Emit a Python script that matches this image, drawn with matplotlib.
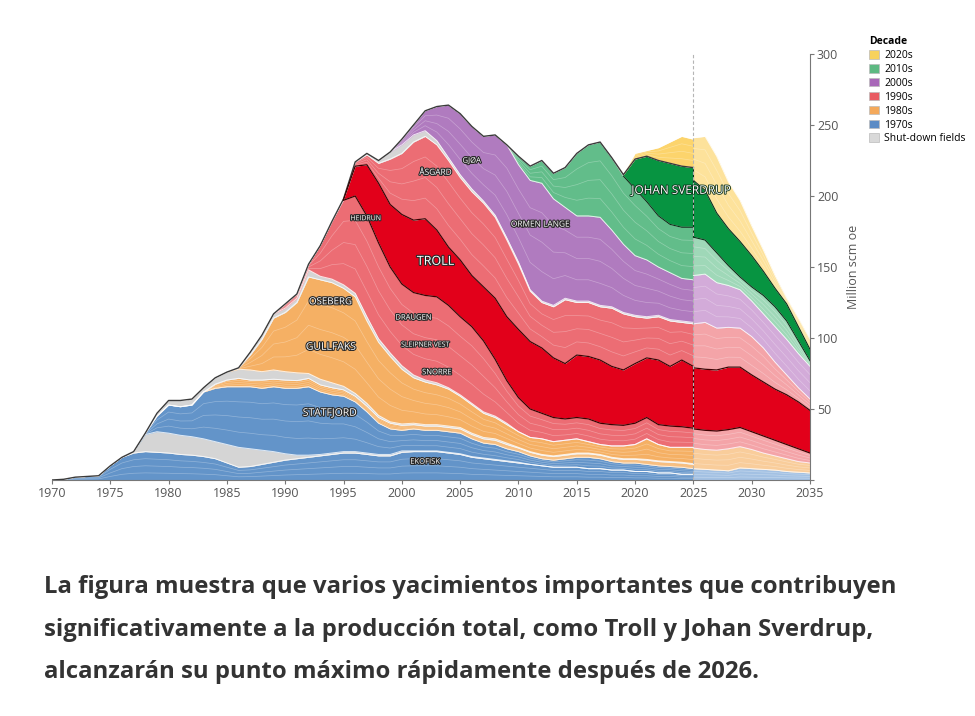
import numpy as np
import matplotlib
matplotlib.use("Agg")
import matplotlib.pyplot as plt
import matplotlib.patheffects as pe
from matplotlib.patches import Patch

plt.rcParams['font.family'] = ['Open Sans', 'DejaVu Sans']

# years shown, history and forecast share 2025
years = np.arange(1970, 2026)
fc_years = np.arange(2025, 2036)

# upper edge of every band (Million scm oe), historical part
ekofisk_top = [0, 0.5, 2, 2.5, 3, 10, 16, 19, 20, 19.5,
               19, 18, 17.5, 16.5, 15, 12, 9, 9.5, 11, 12.5,
               14, 15, 16, 17, 18, 19, 19, 18, 17, 17,
               19.5, 20, 20, 20, 19, 18, 16, 15, 14, 13,
               12, 11, 10, 9, 9, 9, 8, 8, 7, 7,
               6, 6, 5, 5, 4, 4]
gray70_top = ekofisk_top[:7] + [20, 32, 34,
              33, 31.5, 30.5, 29, 27, 25, 23, 22, 21, 20,
              18.5, 17.5, 17.5, 18, 19, 20, 20, 19, 18, 18,
              20.5, 20.5, 20.5, 20.5, 19.5, 18.5, 16.5, 15.5, 14.5, 13.5,
              12.5, 11, 10, 9, 9, 9, 8, 8, 7, 7,
              6, 6, 5, 5, 4, 4]
statfjord_top = gray70_top[:8] + [33, 45,
                 52.8, 51.6, 52.8, 62, 64.6, 65.7, 65.7, 65.7, 64.6, 65.7,
                 64.6, 64.6, 65.7, 62, 60, 59, 55, 48, 40, 36,
                 35, 36, 35, 35, 34, 33, 29, 26, 25, 22,
                 20, 17, 15, 14, 15, 16, 16, 15, 13, 12,
                 12, 11, 10, 9.5, 9, 8]
orange_low_top = statfjord_top[:14] + [67.5, 70.4, 71.6, 70.4, 70.4, 71,
                  70.4, 70, 71.6, 67, 65, 63.5, 59, 52, 44, 40,
                  38.5, 39, 38, 38, 37, 36, 32, 29, 28, 25,
                  22.5, 19.5, 17.5, 16.5, 17.5, 18.5, 18.5, 17.5, 15.5, 14.5,
                  14.5, 14, 13, 12.5, 12, 11]
gray_mid_top = orange_low_top[:9] + [47,
                56, 56, 57, 65, 72, 76, 78, 77.5, 76.3, 77.5,
                76.3, 75.5, 75, 71, 68.5, 66, 61, 54, 45.5, 41,
                39.5, 40, 39, 39, 38, 37, 33, 30, 29, 26,
                23, 20, 18, 17, 18, 19, 19, 18, 16, 15,
                15, 14.5, 13.5, 13, 12.5, 11.5]
orange_top = gray_mid_top[:16] + [79, 88, 99, 114,
              118, 125, 143, 141, 139, 135, 129, 112, 97, 87,
              78, 72, 69, 67, 64, 59, 53, 47, 44, 39,
              34, 30, 29, 27, 28, 29, 27, 25, 24, 24,
              25, 29, 25, 23, 23, 23]
gray80_top = orange_top[:17] + [90, 102, 117,
              121, 128, 148, 143.5, 141.5, 137.5, 131.5, 115, 99.5, 89.5,
              80.5, 74, 70.5, 68.5, 65, 60, 54, 48, 45, 40] + orange_top[40:]
red_low_top = gray80_top[:20] + [124, 131, 152, 165, 182, 197, 200, 186, 167, 150,
               138, 132, 130, 129, 123, 115, 108, 98, 85, 70,
               58, 50, 47, 44, 43, 44, 43, 40, 39, 38.5,
               40, 44, 39, 38, 37.5, 36.5]
troll_top = red_low_top[:25] + [197.5, 221, 222, 209, 194,
             187, 183, 184, 176, 164, 155, 144, 136, 128, 115,
             106, 97.5, 93, 86, 82, 88, 87, 84.5, 80, 77.5,
             82, 86, 84.5, 80, 84.5, 80]
red_high_top = troll_top[:25] + [198, 224, 229, 223, 226,
                230, 238, 242, 236, 225, 213, 203, 195, 185, 169,
                152, 133, 125, 122, 127, 125, 125, 122, 121, 117,
                115, 114, 115, 112, 111, 110]
gray00_top = red_high_top[:27] + [230, 225, 231,
              236, 243, 246, 239, 227, 215, 205, 196.5, 186.5, 170.5,
              153.5, 134, 126, 123, 128, 126, 126, 123, 122, 118,
              116, 115, 116, 113, 112, 111]
purple_top = gray00_top[:30] + [240, 250, 260, 263, 264, 258, 249, 242, 243, 236,
              222, 211, 209, 198, 192, 186, 186, 185, 176, 166,
              158, 155, 150, 146, 142, 141]
green_top = purple_top[:40] + [228, 221, 225, 216, 220, 230, 236, 238, 227, 214,
             205, 196, 186, 180, 178, 178]
sverdrup_top = green_top[:49] + [215, 226, 228, 225, 223, 221, 220]
yellow_top = sverdrup_top[:49] + [216, 230, 232, 234, 238, 242, 240]

# forecast 2025-2035
fc_blue_top = [8, 7.5, 7, 6.5, 8.5, 8, 7.5, 7, 6, 5.5, 5]
fc_orange_top = [22.5, 21.5, 21, 22, 23.5, 21.5, 19, 17, 15, 13, 12]
fc_red_low_top = [36, 35, 34.5, 35.5, 37, 34, 31, 28, 25, 22, 19]
fc_troll_top = [79, 78, 77.5, 79.5, 79.5, 74, 69, 64, 60, 55, 49]
fc_red_high_top = [110, 111, 107, 107.5, 107, 101, 93, 83, 74, 65, 57]
fc_purple_top = [144, 145, 139, 137, 134, 126, 117, 108, 99, 89, 80]
fc_green_top = [171, 169, 160, 151, 143, 136, 130, 122, 112, 98, 84]
fc_sverdrup_top = [211, 204, 188, 177, 168, 158, 147, 135, 124, 108, 92]
fc_yellow_top = [241, 242, 228, 210, 197, 179, 162, 144, 128, 114, 99]

decades = ['2020s', '2010s', '2000s', '1990s', '1980s', '1970s', 'Shut-down fields']
field_names = ['STATFJORD', 'EKOFISK', 'GULLFAKS', 'OSEBERG', 'SNORRE', 'SLEIPNER VEST',
               'DRAUGEN', 'HEIDRUN', 'TROLL', 'ÅSGARD', 'GJØA', 'ORMEN LANGE', 'JOHAN SVERDRUP']

caption = ["La figura muestra que varios yacimientos importantes que contribuyen",
           "significativamente a la producción total, como Troll y Johan Sverdrup,",
           "alcanzarán su punto máximo rápidamente después de 2026."]

BLUE, GRAY, ORANGE, PINK = '#6394c9', '#d5d5d5', '#f5b064', '#ec6d74'
TROLL, PURPLE, GREEN, SVERD, YELLOW = '#e2001a', '#b07bbf', '#62bd8a', '#079441', '#fcd46c'

hist_bands = [(ekofisk_top, BLUE), (gray70_top, GRAY), (statfjord_top, BLUE),
              (orange_low_top, ORANGE), (gray_mid_top, GRAY), (orange_top, ORANGE),
              (gray80_top, GRAY), (red_low_top, PINK), (troll_top, TROLL),
              (red_high_top, PINK), (gray00_top, GRAY), (purple_top, PURPLE),
              (green_top, GREEN), (sverdrup_top, SVERD), (yellow_top, YELLOW)]
fc_bands = [(fc_blue_top, '#a3c1e3'), (fc_orange_top, '#f9cd9b'), (fc_red_low_top, '#f4a4a8'),
            (fc_troll_top, TROLL), (fc_red_high_top, '#f4a4a8'), (fc_purple_top, '#d3abd9'),
            (fc_green_top, '#9fd8b8'), (fc_sverdrup_top, SVERD), (fc_yellow_top, '#fde29b')]

fig = plt.figure(figsize=(9.75, 7.16), dpi=100)
ax = fig.add_axes([52 / 975, 1 - 480 / 716, 758 / 975, 426 / 716])


def draw_stack(xs, bands, texture=True):
    bottom = np.zeros(len(xs))
    for top, col in bands:
        top = np.asarray(top, dtype=float)
        ax.fill_between(xs, bottom, top, color=col, lw=0, zorder=1)
        if texture and col not in (TROLL, SVERD, GRAY):
            for f in (0.25, 0.5, 0.75):
                ax.plot(xs, bottom + f * (top - bottom), color='white', lw=0.5,
                        alpha=0.3, zorder=2)
        ax.plot(xs, top, color='white', lw=0.7, alpha=0.8, zorder=2)
        bottom = top


draw_stack(years, hist_bands)
draw_stack(fc_years, fc_bands)

# outlines: total (before 2020s fields), Troll and Johan Sverdrup
dark = '#3a3a3a'
ax.plot(years, sverdrup_top, color=dark, lw=1.0, zorder=3)
ax.plot(years[25:], red_low_top[25:], color='#3d0000', lw=0.9, zorder=3)
ax.plot(years[25:], troll_top[25:], color='#3d0000', lw=0.9, zorder=3)
ax.plot(fc_years, fc_red_low_top, color='#3d0000', lw=0.9, zorder=3)
ax.plot(fc_years, fc_troll_top, color='#3d0000', lw=0.9, zorder=3)
ax.vlines(2025, fc_red_low_top[0], troll_top[-1], color='#3d0000', lw=0.9, zorder=3)
ax.plot(years[49:], green_top[49:], color='#0b3018', lw=0.8, zorder=3)
ax.plot(fc_years, fc_green_top, color='#0b3018', lw=0.8, zorder=3)
ax.plot(fc_years, fc_sverdrup_top, color='#0b3018', lw=0.8, zorder=3)
ax.vlines(2025, fc_green_top[0], sverdrup_top[-1], color='#0b3018', lw=0.8, zorder=3)

ax.axvline(2025, color='#b5b5b5', lw=0.8, ls=(0, (3, 2)), zorder=4)

label_pos = [(1993.8, 47, 7.5), (2002.0, 12.5, 5.5), (1993.9, 93.5, 7.5), (1993.9, 125.5, 7),
             (2003.0, 75.5, 5.5), (2002.0, 95, 5), (2001.0, 114, 5.5), (1996.9, 184, 5),
             (2002.9, 154, 9), (2002.9, 216, 6), (2006.0, 224.5, 5.5), (2011.9, 179.5, 6),
             (2023.9, 204, 8.5)]
for name, (lx, ly, fs) in zip(field_names, label_pos):
    if name == 'JOHAN SVERDRUP':
        fx = [pe.withStroke(linewidth=1.2, foreground='#0b3018')]
    else:
        fx = [pe.withStroke(linewidth=1.6, foreground='#2a2a2a')]
    ax.text(lx, ly, name, fontsize=fs, color='white', ha='center', va='center',
            path_effects=fx, zorder=5)

ax.set_xlim(1970, 2035)
ax.set_ylim(0, 300)
for s in ('top', 'left'):
    ax.spines[s].set_visible(False)
for s in ('bottom', 'right'):
    ax.spines[s].set_color('#777777')
    ax.spines[s].set_linewidth(0.8)
ax.set_xticks(np.arange(1970, 2036, 5))
ax.yaxis.tick_right()
ax.set_yticks(np.arange(0, 301, 50))
ax.set_yticklabels([''] + [str(v) for v in range(50, 301, 50)])
ax.tick_params(length=3, width=0.8, color='#777777', labelcolor='#555555',
               labelsize=9, pad=2)
ax.yaxis.set_label_position('right')
ax.set_ylabel('Million scm oe', fontsize=9, color='#555555', labelpad=6)

leg_cols = ['#f7d25c', '#5db982', '#a867b8', '#e95b62', '#f4a95b', '#5b8bc5', '#d9d9d9']
handles = [Patch(facecolor=c, edgecolor='#bbbbbb', lw=0.5) for c in leg_cols]
fig.legend(handles, decades, loc='upper left', bbox_to_anchor=(869 / 975, 1 - 36 / 716),
           frameon=False, fontsize=7.5, title='Decade',
           title_fontproperties={'weight': 'bold', 'size': 7.5},
           handlelength=1.0, handleheight=0.9, labelspacing=0.28, handletextpad=0.45,
           borderpad=0, borderaxespad=0, alignment='left')

for i, line in enumerate(caption):
    fig.text(44 / 975, 1 - (587 + 42.5 * i) / 716, line, fontsize=17.2, fontweight='bold',
             color='#333333', va='center')

fig.savefig('out.png', dpi=100)
